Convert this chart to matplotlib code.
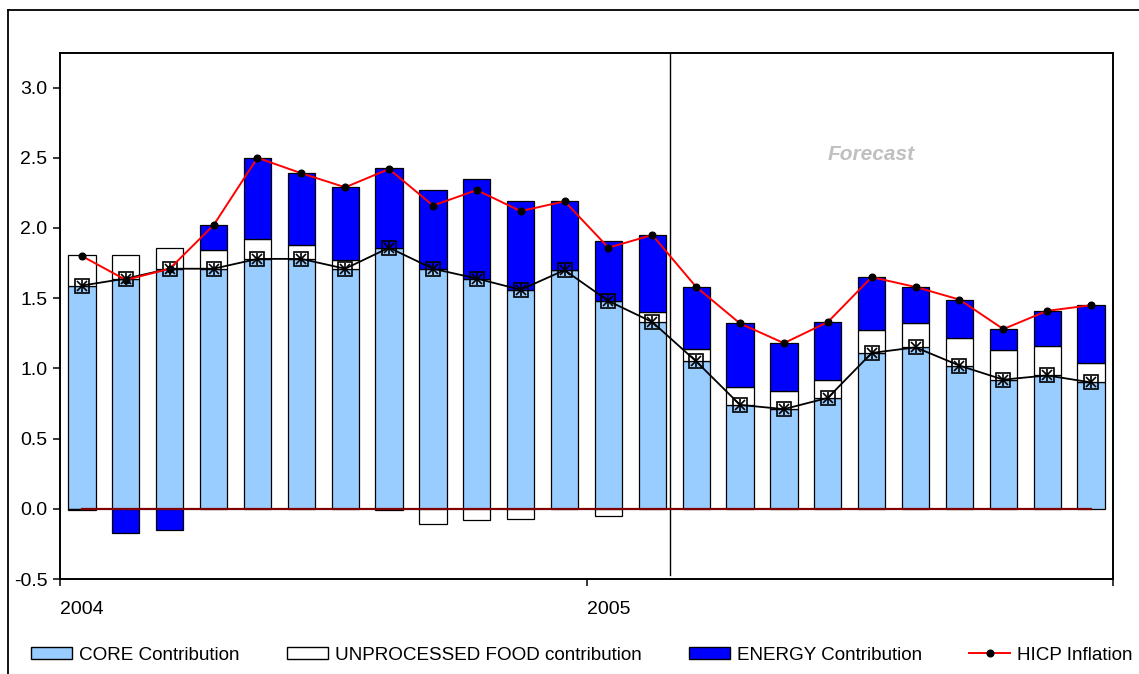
import matplotlib
matplotlib.use("Agg")
import matplotlib.pyplot as plt
import numpy as np
from matplotlib.lines import Line2D
from matplotlib.patches import Patch

plt.rcParams['font.family'] = ['Liberation Sans', 'DejaVu Sans']

# Monthly contributions to HICP inflation, Jan 2004 - Dec 2005
months = list(range(24))
core = [1.59, 1.64, 1.71, 1.71, 1.78, 1.78, 1.71, 1.86, 1.71, 1.64, 1.56, 1.70,
        1.48, 1.33, 1.05, 0.74, 0.71, 0.79, 1.11, 1.15, 1.02, 0.92, 0.95, 0.90]
food = [0.22, 0.17, 0.15, 0.13, 0.14, 0.10, 0.06, -0.01, -0.11, -0.08, -0.07, 0.00,
        -0.05, 0.07, 0.09, 0.13, 0.13, 0.13, 0.16, 0.17, 0.20, 0.21, 0.21, 0.14]
energy = [-0.01, -0.17, -0.15, 0.18, 0.58, 0.51, 0.52, 0.57, 0.56, 0.71, 0.63, 0.49,
          0.43, 0.55, 0.44, 0.45, 0.34, 0.41, 0.38, 0.26, 0.27, 0.15, 0.25, 0.41]
hicp = [1.80, 1.63, 1.71, 2.02, 2.50, 2.39, 2.29, 2.42, 2.16, 2.27, 2.12, 2.19,
        1.86, 1.95, 1.58, 1.32, 1.18, 1.33, 1.65, 1.58, 1.49, 1.28, 1.41, 1.45]
year_labels = ['2004', '2005', '']
forecast_start = 13.4

fig = plt.figure(figsize=(11.39, 6.74), dpi=100)
ax = fig.add_axes([60 / 1139, 95 / 674, 1053 / 1139, 526.5 / 674])

x = np.array(months)
width = 0.62
pos_base = np.zeros(len(x))
neg_base = np.zeros(len(x))
series = [(core, '#99CCFF', 'CORE Contribution'),
          (food, '#FFFFFF', 'UNPROCESSED FOOD contribution'),
          (energy, '#0000FF', 'ENERGY Contribution')]
for vals, color, lab in series:
    v = np.array(vals)
    bottom = np.where(v >= 0, pos_base, neg_base)
    ax.bar(x, v, width=width, bottom=bottom, color=color, edgecolor='black',
           linewidth=0.9, zorder=2)
    pos_base = pos_base + np.where(v >= 0, v, 0)
    neg_base = neg_base + np.where(v < 0, v, 0)

# zero reference line
ax.plot([x[0], x[-1]], [0, 0], color='#800000', lw=1.6, zorder=3)

# core level line with boxed asterisk markers
ax.plot(x, core, color='black', lw=1.3, marker='s', markersize=10.5,
        markerfacecolor='none', markeredgecolor='black', markeredgewidth=1.2, zorder=4)
ax.plot(x, core, ls='none', marker='x', markersize=7.5, markeredgecolor='black',
        markeredgewidth=1.2, zorder=5)
ax.plot(x, core, ls='none', marker='|', markersize=9, markeredgecolor='black',
        markeredgewidth=1.2, zorder=5)

# headline inflation
ax.plot(x, hicp, color='red', lw=1.4, marker='o', markersize=4.8,
        markerfacecolor='black', markeredgecolor='black', zorder=6)

# forecast divider
ax.plot([forecast_start, forecast_start], [-0.475, 3.25], color='black', lw=1.0, zorder=1)
ax.text(18.0, 2.52, 'Forecast', color='#C0C0C0', fontsize=15, fontweight='bold',
        fontstyle='italic', ha='center', va='center')

ax.set_xlim(-0.5, 23.5)
ax.set_ylim(-0.5, 3.25)
ax.set_yticks(np.arange(-0.5, 3.01, 0.5))
ax.set_yticklabels([f'{t:.1f}' for t in np.arange(-0.5, 3.01, 0.5)])
ax.set_xticks([-0.5, 11.5, 23.5])
ax.set_xticklabels(year_labels, ha='left')
ax.tick_params(axis='both', direction='out', length=5, width=1.1, labelsize=14,
               colors='black')
ax.tick_params(axis='x', pad=11)
ax.tick_params(axis='y', pad=4)
for s in ax.spines.values():
    s.set_linewidth(1.4)
    s.set_color('black')

# legend
handles = [Patch(facecolor='#99CCFF', edgecolor='black', linewidth=1.0),
           Patch(facecolor='#FFFFFF', edgecolor='black', linewidth=1.0),
           Patch(facecolor='#0000FF', edgecolor='black', linewidth=1.0),
           Line2D([0], [0], color='red', lw=1.4, marker='o', markersize=4.8,
                  markerfacecolor='black', markeredgecolor='black')]
labels = ['CORE Contribution', 'UNPROCESSED FOOD contribution',
          'ENERGY Contribution', 'HICP Inflation']
fig.legend(handles, labels, loc='center', bbox_to_anchor=(582 / 1139, 1 - 655 / 674),
           ncol=4, frameon=False, fontsize=13.6, handlelength=2.17, handleheight=0.55,
           handletextpad=0.37, columnspacing=2.5, borderaxespad=0, borderpad=0)

# outer chart frame
fig.add_artist(Line2D([8 / 1139, 8 / 1139], [0, 1 - 9.5 / 674], color='black', lw=1.3,
                      transform=fig.transFigure))
fig.add_artist(Line2D([8 / 1139, 1], [1 - 9.5 / 674, 1 - 9.5 / 674], color='black', lw=1.3,
                      transform=fig.transFigure))

fig.savefig('out.png', dpi=100)
